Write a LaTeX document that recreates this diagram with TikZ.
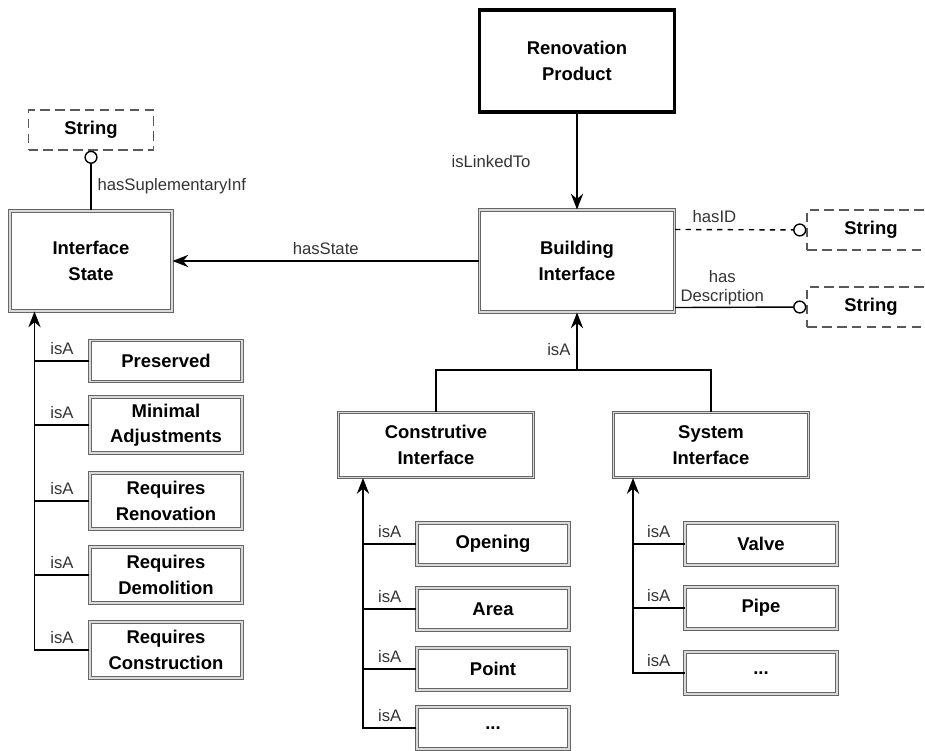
\documentclass[tikz,border=0pt]{standalone}
\usepackage{fontspec}
\setmainfont{Liberation Sans}
\usetikzlibrary{arrows.meta,positioning}

\begin{document}
\begin{tikzpicture}[x=0.02cm,y=-0.02cm,
    box/.style={align=center,inner sep=0pt,font=\bfseries\fontsize{10.5}{14.5}\selectfont},
    cls/.style={box,draw=black!60,double=black!15,line width=0.6pt,double distance=0.7pt},
    prod/.style={box,draw=black,line width=1.8pt},
    lit/.style={box,draw=black!65,line width=0.8pt,dash pattern=on 5.5pt off 3pt},
    rel/.style={line width=0.8pt,-{Stealth[length=9pt,width=7pt,inset=3pt]}},
    opt/.style={line width=0.8pt,-{Circle[open,length=7.5pt,line width=0.8pt]}},
    lbl/.style={font=\fontsize{9.5}{11}\selectfont,text=black!80}]
        \useasboundingbox (0,0) rectangle (925,750);

        % Main classes
        \node[prod,minimum width=3.9cm,minimum height=2.04cm] (RP) at (577,61) {Renovation\\Product};
        \node[cls,minimum width=3.9cm,minimum height=2.04cm] (BI) at (577,261) {Building\\Interface};
        \node[cls,minimum width=3.24cm,minimum height=2cm] (IS) at (91,261) {Interface\\State};

        % Literals
        \node[lit,minimum width=2.5cm,minimum height=0.8cm] (S1) at (91,130) {String};
        \node[lit,minimum width=2.56cm,minimum height=0.8cm] (S2) at (871,230) {String};
        \node[lit,minimum width=2.56cm,minimum height=0.8cm] (S3) at (871,307) {String};

        % Interface subclasses
        \node[cls,minimum width=3.9cm,minimum height=1.3cm] (CI) at (436,445) {Construtive\\Interface};
        \node[cls,minimum width=3.9cm,minimum height=1.3cm] (SI) at (711,445) {System\\Interface};

        % States
        \node[cls,minimum width=3.04cm,minimum height=0.82cm] (PR) at (166,361) {Preserved};
        \node[cls,minimum width=3.04cm,minimum height=1.12cm] (MA) at (166,425) {Minimal\\Adjustments};
        \node[cls,minimum width=3.04cm,minimum height=1.12cm] (RR) at (166,501) {Requires\\Renovation};
        \node[cls,minimum width=3.04cm,minimum height=1.12cm] (RD) at (166,575) {Requires\\Demolition};
        \node[cls,minimum width=3.04cm,minimum height=1.12cm] (RC) at (166,650) {Requires\\Construction};

        % Construtive kinds
        \node[cls,minimum width=3.04cm,minimum height=0.84cm] (OP) at (493,544) {Opening};
        \node[cls,minimum width=3.04cm,minimum height=0.84cm] (AR) at (493,609) {Area};
        \node[cls,minimum width=3.04cm,minimum height=0.84cm] (PT) at (493,669) {Point};
        \node[cls,minimum width=3.04cm,minimum height=0.84cm] (CD) at (493,728) {...};

        % System kinds
        \node[cls,minimum width=3.04cm,minimum height=0.84cm] (VA) at (761,544) {Valve};
        \node[cls,minimum width=3.04cm,minimum height=0.84cm] (PI) at (761,608) {Pipe};
        \node[cls,minimum width=3.04cm,minimum height=0.84cm] (SD) at (761,673) {...};

        % Properties
        \draw[rel] (RP) -- node[lbl,left=0.8cm] {isLinkedTo} (BI);
        \draw[rel] (BI) -- node[lbl,above] {hasState} (IS);
        \draw[opt] (IS) -- node[lbl,right,pos=0.4] {hasSuplementaryInf} (S1);
        \draw[opt,dashed] ([yshift=-0.4cm]BI.north east) -- node[lbl,above,pos=0.3] {hasID} (S2.west);
        \draw[opt] ([yshift=0.1cm]BI.south east) -- node[lbl,above,pos=0.36,align=center,inner sep=1pt] {has\\Description} (S3.west);

        % isA tree under Building Interface
        \coordinate (jn) at (577,370);
        \draw[rel] (jn) -- node[lbl,left,pos=0.35] {isA} (BI);
        \draw[line width=0.8pt] (CI) |- (jn) -| (SI);

        % isA trunks
        \coordinate (isT) at ([xshift=0.5cm]IS.south west);
        \coordinate (ciT) at ([xshift=0.5cm]CI.south west);
        \coordinate (siT) at ([xshift=0.4cm]SI.south west);
        \draw[rel] (RC.west) -| (isT);
        \draw[rel] (CD.west) -| (ciT);
        \draw[rel] (SD.west) -| (siT);
        \foreach \n in {PR,MA,RR,RD,RC}
            \draw[line width=0.8pt] (\n.west) -- node[lbl,above] {isA} (\n.west -| isT);
        \foreach \n in {OP,AR,PT,CD}
            \draw[line width=0.8pt] (\n.west) -- node[lbl,above] {isA} (\n.west -| ciT);
        \foreach \n in {VA,PI,SD}
            \draw[line width=0.8pt] (\n.west) -- node[lbl,above] {isA} (\n.west -| siT);
\end{tikzpicture}
\end{document}
